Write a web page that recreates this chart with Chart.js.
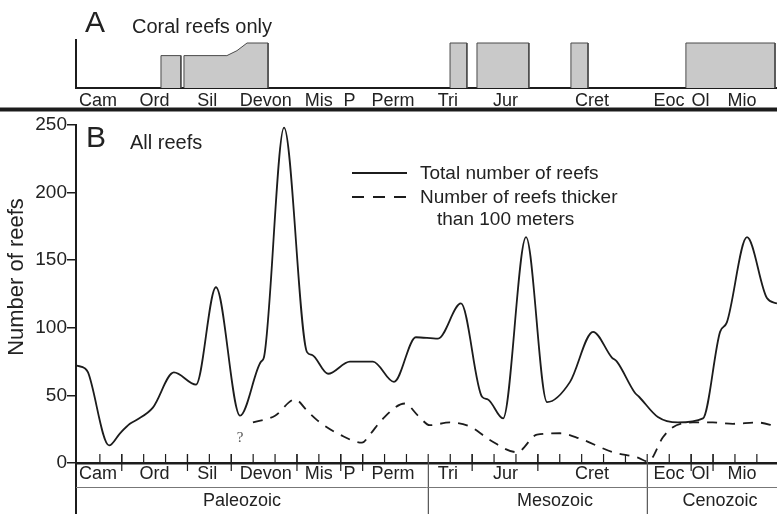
<!DOCTYPE html>
<html>
<head>
<meta charset="utf-8">
<script src="https://cdn.jsdelivr.net/npm/chart.js@4/dist/chart.umd.min.js"></script>
<style>
  html, body { margin: 0; padding: 0; background: #fff; }
  #wrap { position: relative; width: 777px; height: 514px; }
  #wrap canvas { position: absolute; left: 0; top: 0; }
</style>
</head>
<body>
<div id="wrap">
  <canvas id="reefs" width="777" height="514"></canvas>
  <canvas id="coral" width="777" height="112"></canvas>
</div>
<script>
// x values are in small-tick units along the time axis (tick 0 sits at the y axis)
const totalX = [-0.06, 0.32, 0.46, 1.42, 1.92, 2.37, 2.69, 3.42, 4.38, 5.39, 6.30, 7.40, 8.36, 8.49, 9.41,
  10.46, 10.68, 11.42, 12.42, 13.47, 14.43, 15.43, 16.44, 17.49, 18.45, 18.72, 19.41, 20.46, 21.42, 22.47,
  23.52, 24.38, 24.61, 25.43, 25.62, 26.48, 27.40, 28.54, 29.32, 29.63, 30.55, 31.46, 31.92];
const totalReefs = [72, 70, 67, 13, 22, 29, 32, 41, 67, 58, 130, 35, 75, 78, 248,
  82, 80, 66, 75, 75, 60, 93, 92, 118, 49, 47, 33, 167, 45, 60,
  97, 78, 75, 52, 49, 34, 30, 33, 97, 104, 167, 122, 118];

const thickX = [7.99, 9.0, 9.91, 10.5, 11.05, 11.96, 12.97, 13.33, 13.88, 14.93, 15.53, 16.07, 16.99, 17.9,
  18.81, 20.05, 20.96, 22.01, 22.92, 24.43, 25.57, 26.03, 26.71, 27.12, 28.08, 28.99, 29.91, 31.0, 31.92];
const thickReefs = [30, 35, 47, 38, 30, 21, 15, 21, 32, 44, 35, 28, 30, 27,
  17, 8, 21, 22, 18, 8, 4, 1, 19, 26, 30, 30, 29, 30, 27];

const periods = ["Cam", "Ord", "Sil", "Devon", "Mis", "P", "Perm", "Tri", "Jur", "Cret", "Eoc", "Ol", "Mio"];
const periodMid = [0.91, 3.5, 5.9, 8.58, 11.0, 12.4, 14.38, 16.89, 19.52, 23.47, 26.99, 28.43, 30.32];
const periodEdges = [2, 5, 7, 10, 12, 13, 18, 21, 28, 29];
const eras = ["Paleozoic", "Mesozoic", "Cenozoic"];
const eraMid = [7.49, 21.78, 29.32];
const eraEdges = [16, 26];

// coral reef blocks (panel A): x outline and relative height
const coralX = [[3.79, 4.70], [4.84, 6.80, 7.26, 7.72, 8.68], [16.99, 17.76], [18.22, 20.59], [22.51, 23.29], [27.76, 31.83]];
const coralH = [[0.72, 0.72], [0.72, 0.72, 0.83, 1, 1], [1, 1], [1, 1], [1, 1], [1, 1]];

const FONT = "'Liberation Sans', Arial, Helvetica, sans-serif";
const INK = "#1c1c1c";
const X_MIN = -0.09, X_MAX = 31.92;

function seg(ctx, x1, y1, x2, y2) {
  ctx.beginPath();
  ctx.moveTo(x1, y1);
  ctx.lineTo(x2, y2);
  ctx.stroke();
}

// ---------- panel B ----------
const reefDecor = {
  id: "reefDecor",
  afterDraw(chart) {
    const { ctx, chartArea: a, scales: { x, y } } = chart;
    const H = chart.height;
    ctx.save();

    // y axis continues down through the label rows
    ctx.strokeStyle = INK;
    ctx.lineWidth = 2;
    seg(ctx, a.left, a.bottom, a.left, H);

    // small ticks pointing up from the axis
    ctx.lineWidth = 1.2;
    for (let k = 1; k <= 31; k++) {
      const px = x.getPixelForValue(k);
      seg(ctx, px, a.bottom - 9, px, a.bottom);
    }
    // period boundaries cross the axis
    periodEdges.forEach(e => {
      const px = x.getPixelForValue(e);
      seg(ctx, px, a.bottom - 9, px, a.bottom + 8);
    });
    // era boundaries run to the bottom
    ctx.strokeStyle = "#555";
    ctx.lineWidth = 1.2;
    eraEdges.forEach(e => {
      const px = x.getPixelForValue(e);
      seg(ctx, px, a.bottom - 9, px, H);
    });
    ctx.strokeStyle = "#777";
    ctx.lineWidth = 1;
    seg(ctx, a.left, a.bottom + 24.5, a.right, a.bottom + 24.5);

    // period and era names
    ctx.fillStyle = "#222";
    ctx.textAlign = "center";
    ctx.textBaseline = "middle";
    ctx.font = "18px " + FONT;
    periods.forEach((p, i) => ctx.fillText(p, x.getPixelForValue(periodMid[i]), a.bottom + 11));
    eras.forEach((p, i) => ctx.fillText(p, x.getPixelForValue(eraMid[i]), a.bottom + 38));

    // question mark where the thick-reef record begins
    ctx.fillStyle = "#555";
    ctx.font = "15px 'Liberation Serif', 'DejaVu Serif', serif";
    ctx.fillText("?", x.getPixelForValue(7.4), y.getPixelForValue(18.5));

    // y axis title
    ctx.fillStyle = "#222";
    ctx.font = "22px " + FONT;
    ctx.save();
    ctx.translate(17, 277);
    ctx.rotate(-Math.PI / 2);
    ctx.fillText("Number of reefs", 0, 0);
    ctx.restore();

    // panel letter and caption
    ctx.textAlign = "left";
    ctx.textBaseline = "alphabetic";
    ctx.font = "30px " + FONT;
    ctx.fillText("B", 86, 147);
    ctx.font = "20px " + FONT;
    ctx.fillText("All reefs", 130, 149);

    // legend
    ctx.strokeStyle = INK;
    ctx.lineWidth = 1.8;
    seg(ctx, 352, 173, 407, 173);
    ctx.setLineDash([12, 9]);
    seg(ctx, 352, 197, 406, 197);
    ctx.setLineDash([]);
    ctx.font = "19px " + FONT;
    ctx.textBaseline = "middle";
    ctx.fillText("Total number of reefs", 420, 174);
    ctx.fillText("Number of reefs thicker", 420, 198);
    ctx.fillText("than 100 meters", 437, 220);
    ctx.restore();
  }
};

new Chart(document.getElementById("reefs"), {
  type: "line",
  data: {
    datasets: [
      {
        label: "Total number of reefs",
        data: totalX.map((v, i) => ({ x: v, y: totalReefs[i] })),
        borderColor: INK,
        borderWidth: 1.8,
        pointRadius: 0,
        cubicInterpolationMode: "monotone",
        fill: false
      },
      {
        label: "Number of reefs thicker than 100 meters",
        data: thickX.map((v, i) => ({ x: v, y: thickReefs[i] })),
        borderColor: INK,
        borderWidth: 1.8,
        borderDash: [10, 8],
        pointRadius: 0,
        cubicInterpolationMode: "monotone",
        fill: false
      }
    ]
  },
  options: {
    responsive: false,
    animation: false,
    layout: { padding: { top: 125, right: 0, bottom: 0, left: 0 } },
    plugins: { legend: { display: false }, tooltip: { enabled: false } },
    scales: {
      x: {
        type: "linear",
        min: X_MIN,
        max: X_MAX,
        afterFit: s => { s.height = 51; },
        ticks: { display: false },
        grid: { display: false },
        border: { color: INK, width: 2.5 }
      },
      y: {
        min: 0,
        max: 250,
        afterFit: s => { s.width = 76; },
        ticks: { stepSize: 50, padding: 0, color: "#222", font: { family: FONT, size: 19 } },
        grid: { drawOnChartArea: false, tickLength: 9, color: INK, lineWidth: 1.5 },
        border: { color: INK, width: 2 }
      }
    }
  },
  plugins: [reefDecor]
});

// ---------- panel A ----------
const coralDecor = {
  id: "coralDecor",
  afterDraw(chart) {
    const { ctx, chartArea: a, scales: { x } } = chart;
    ctx.save();
    ctx.fillStyle = "#222";
    ctx.textAlign = "center";
    ctx.textBaseline = "middle";
    ctx.font = "18px " + FONT;
    periods.forEach((p, i) => ctx.fillText(p, x.getPixelForValue(periodMid[i]), a.bottom + 13));
    ctx.fillStyle = INK;
    ctx.fillRect(0, 107.5, chart.width, 4);
    ctx.fillStyle = "#222";
    ctx.textAlign = "left";
    ctx.textBaseline = "alphabetic";
    ctx.font = "30px " + FONT;
    ctx.fillText("A", 85, 32);
    ctx.font = "20px " + FONT;
    ctx.fillText("Coral reefs only", 132, 33);
    ctx.restore();
  }
};

const coralSets = coralX.map((xs, i) => ({
  data: [{ x: xs[0], y: 0 }]
    .concat(xs.map((v, j) => ({ x: v, y: coralH[i][j] })))
    .concat([{ x: xs[xs.length - 1], y: 0 }]),
  borderColor: "#4a4a4a",
  borderWidth: 1,
  backgroundColor: "#c9c9c9",
  pointRadius: 0,
  tension: 0,
  fill: "origin"
}));

new Chart(document.getElementById("coral"), {
  type: "line",
  data: { datasets: coralSets },
  options: {
    responsive: false,
    animation: false,
    layout: { padding: { top: 40, right: 0, bottom: 0, left: 0 } },
    plugins: { legend: { display: false }, tooltip: { enabled: false } },
    scales: {
      x: {
        type: "linear",
        min: X_MIN,
        max: X_MAX,
        afterFit: s => { s.height = 24; },
        ticks: { display: false },
        grid: { display: false },
        border: { color: INK, width: 2 }
      },
      y: {
        min: 0,
        max: 1.067,
        afterFit: s => { s.width = 76; },
        ticks: { display: false },
        grid: { display: false },
        border: { color: INK, width: 2 }
      }
    }
  },
  plugins: [coralDecor]
});
</script>
</body>
</html>
